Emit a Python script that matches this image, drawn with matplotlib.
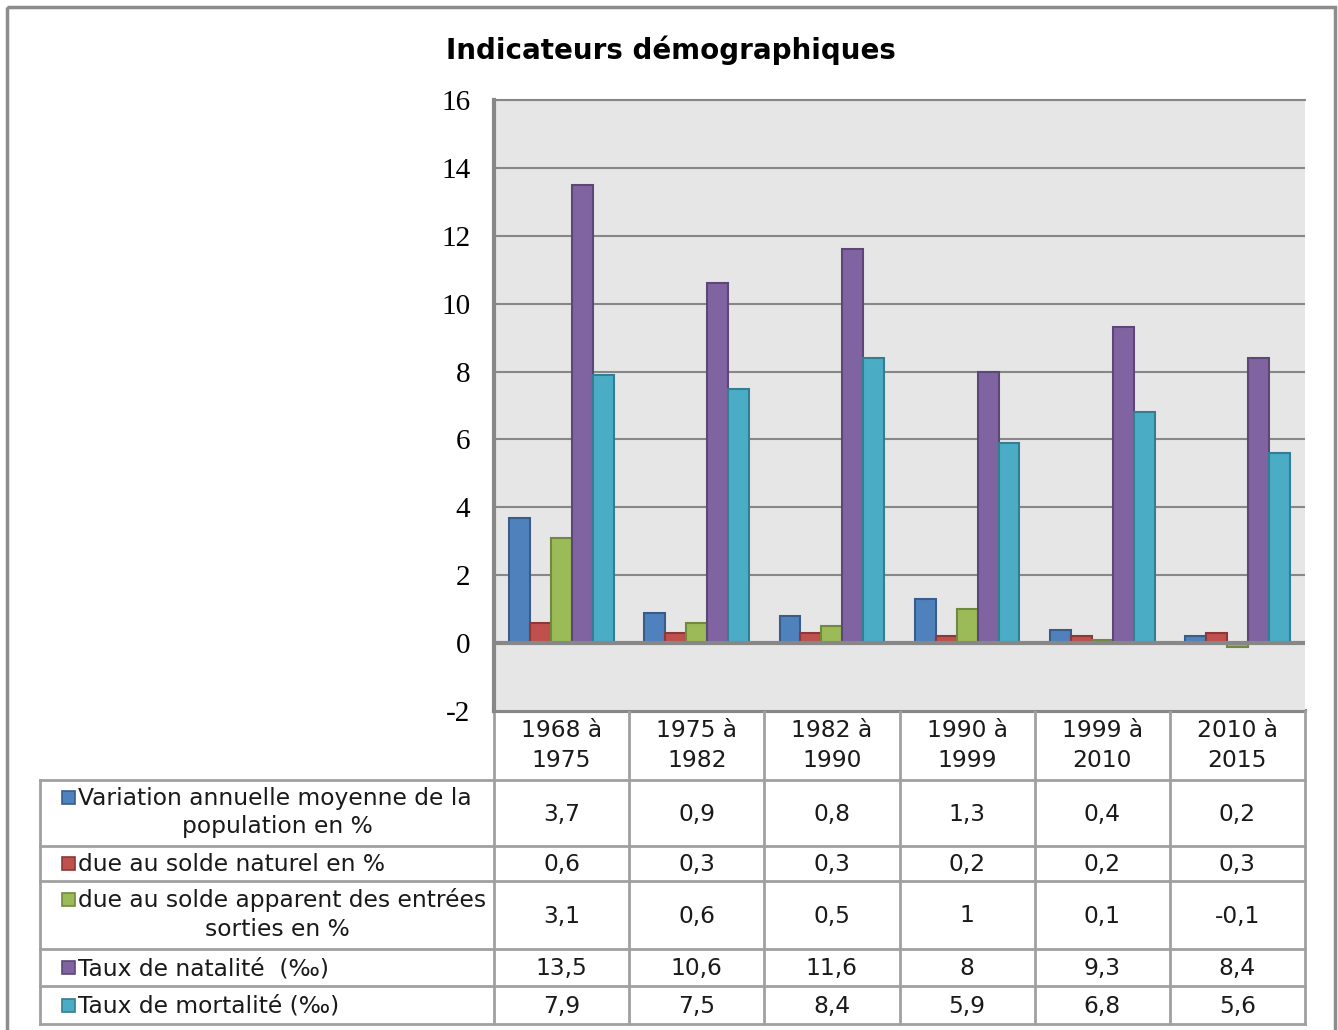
import matplotlib
matplotlib.use('Agg')
import matplotlib.pyplot as plt
from matplotlib.patches import Rectangle
import numpy as np

plt.rcParams['axes.unicode_minus'] = False

W, H = 1338, 1030

categories = ['1968 à\n1975', '1975 à\n1982', '1982 à\n1990', '1990 à\n1999', '1999 à\n2010', '2010 à\n2015']
series_names = ['Variation annuelle moyenne de la\npopulation en %',
                'due au solde naturel en %',
                'due au solde apparent des entrées\nsorties en %',
                'Taux de natalité  (‰)',
                'Taux de mortalité (‰)']
variation = [3.7, 0.9, 0.8, 1.3, 0.4, 0.2]
solde_naturel = [0.6, 0.3, 0.3, 0.2, 0.2, 0.3]
solde_apparent = [3.1, 0.6, 0.5, 1, 0.1, -0.1]
natalite = [13.5, 10.6, 11.6, 8, 9.3, 8.4]
mortalite = [7.9, 7.5, 8.4, 5.9, 6.8, 5.6]
values = [variation, solde_naturel, solde_apparent, natalite, mortalite]

colors = ['#4F81BD', '#C0504D', '#9BBB59', '#8064A2', '#4BACC6']
edges = ['#385D8A', '#8C3836', '#71893F', '#5C4776', '#357D91']

# zone de tracé en pixels
PL, PR, PT, PB = 494, 1305, 100, 711
GRID = '#878787'
BORDER = '#A0A0A0'
SANS = 'DejaVu Sans'

fig = plt.figure(figsize=(W / 100, H / 100), dpi=100)

# calque de fond / tableau
bg = fig.add_axes([0, 0, 1, 1])
bg.set_xlim(0, W)
bg.set_ylim(H, 0)
bg.axis('off')
bg.add_patch(Rectangle((7, 7), W - 10, H + 20, fill=False, edgecolor='#8C8C8C', lw=2.5))

ax = fig.add_axes([PL / W, (H - PB) / H, (PR - PL) / W, (PB - PT) / H])
ax.set_facecolor('#E6E6E6')
n = len(categories)
x = np.arange(n)
bw = 0.155
for i, (vals, c, e) in enumerate(zip(values, colors, edges)):
    ax.bar(x + (i - 2) * bw, vals, bw, color=c, edgecolor=e, linewidth=1.5, zorder=3)
ax.set_xlim(-0.5, n - 0.5)
ax.set_ylim(-2, 16)
ax.set_yticks(range(-2, 17, 2))
ax.set_xticks([])
ax.yaxis.grid(True, color=GRID, lw=1.5, zorder=0)
ax.axhline(0, color=GRID, lw=3, zorder=4)
for s in ['right', 'bottom']:
    ax.spines[s].set_visible(False)
ax.spines['top'].set_color(GRID)
ax.spines['top'].set_linewidth(1.5)
ax.spines['left'].set_color(GRID)
ax.spines['left'].set_linewidth(3)
ax.tick_params(axis='y', length=0, pad=17, labelsize=21)
for lab in ax.get_yticklabels():
    lab.set_fontfamily('Liberation Serif')

fig.text(671 / W, 1 - 50 / H, 'Indicateurs démographiques', ha='center', va='center',
         fontsize=20, fontweight='bold', family=SANS)

# tableau de données
col_w = (PR - PL) / n
rows = [711, 780, 846, 881, 949, 986, 1024]
TL = 40
fs = 16.8

bg.plot([PL, PR], [rows[0], rows[0]], color=GRID, lw=3)
for y in rows[1:]:
    bg.plot([TL, PR], [y, y], color=BORDER, lw=2)
for k in range(n + 1):
    bg.plot([PL + k * col_w] * 2, [rows[0], rows[-1]], color=BORDER, lw=2)
bg.plot([TL, TL], [rows[1], rows[-1]], color=BORDER, lw=2)

for k, cat in enumerate(categories):
    bg.text(PL + (k + 0.5) * col_w, (rows[0] + rows[1]) / 2, cat, ha='center', va='center',
            fontsize=fs, family=SANS, linespacing=1.4, color='#1A1A1A')

for r, (name, vals, c, e) in enumerate(zip(series_names, values, colors, edges)):
    y0, y1 = rows[r + 1], rows[r + 2]
    lines = name.split('\n')
    if len(lines) == 1:
        yk = (y0 + y1) / 2
    else:
        yk = y0 + (y1 - y0) * 0.27
    bg.add_patch(Rectangle((62, yk - 6.5), 13, 13, facecolor=c, edgecolor=e, lw=1.2))
    bg.text(78, yk + 1, lines[0], ha='left', va='center', fontsize=fs, family=SANS, color='#1A1A1A')
    if len(lines) > 1:
        bg.text(277, y0 + (y1 - y0) * 0.71, lines[1], ha='center', va='center',
                fontsize=fs, family=SANS, color='#1A1A1A')
    for k, v in enumerate(vals):
        txt = ('%g' % v).replace('.', ',')
        bg.text(PL + (k + 0.5) * col_w, (y0 + y1) / 2 + 1, txt, ha='center', va='center',
                fontsize=fs, family=SANS, color='#1A1A1A')

fig.savefig('out.png', dpi=100)
